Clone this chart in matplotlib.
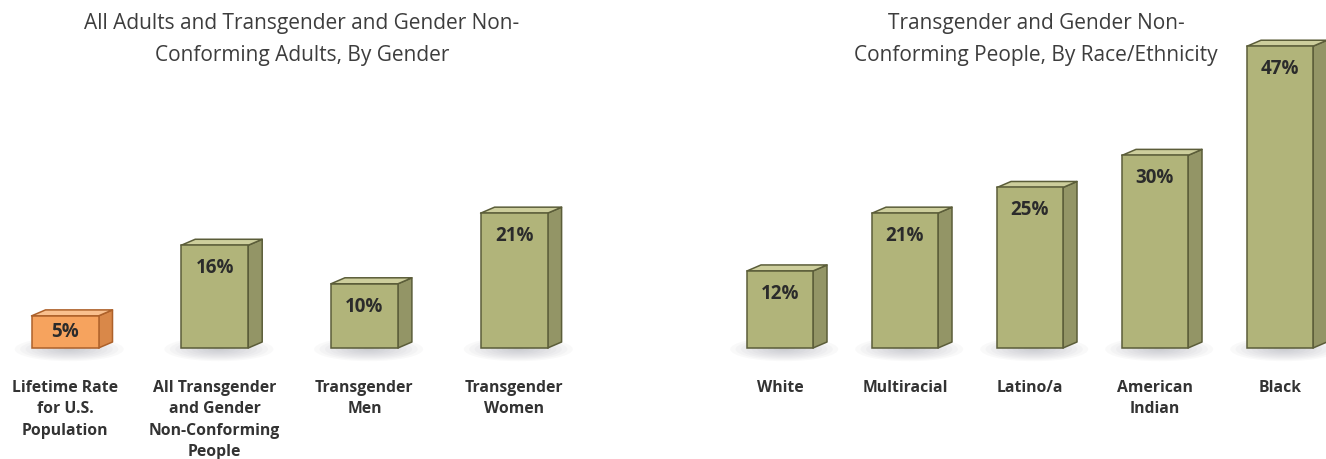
import matplotlib
matplotlib.use("Agg")
from matplotlib import pyplot as plt
from matplotlib.patches import Polygon, Rectangle, Ellipse

plt.rcParams['font.family'] = ['Open Sans', 'DejaVu Sans']

# left panel: by gender
gender_labels = ["Lifetime Rate\nfor U.S.\nPopulation",
                 "All Transgender\nand Gender\nNon-Conforming\nPeople",
                 "Transgender\nMen",
                 "Transgender\nWomen"]
gender_values = [5, 16, 10, 21]
gender_title = "All Adults and Transgender and Gender Non-\nConforming Adults, By Gender"

# right panel: by race/ethnicity
race_labels = ["White", "Multiracial", "Latino/a", "American\nIndian", "Black"]
race_values = [12, 21, 25, 30, 47]
race_title = "Transgender and Gender Non-\nConforming People, By Race/Ethnicity"

W, H = 1326, 459
fig = plt.figure(figsize=(W / 100, H / 100), dpi=100)

GREEN = dict(front="#b1b47a", side="#939566", top="#cdce9c", edge="#5b5d39")
ORANGE = dict(front="#f6a35e", side="#d98849", top="#f9c08e", edge="#ad612a")
YMAX = 54.2


def box(ax, x, h, width, dx, dy, c):
    x0, x1 = x - width / 2, x + width / 2
    # soft floor shadow
    for k in range(10):
        s = 1 - k / 10
        ax.add_patch(Ellipse((x + dx * 0.3, -dy * 0.2), (width + 3.0 * dx) * s,
                             4.0 * dy * s, color="#8e909c", alpha=0.05,
                             lw=0, clip_on=False, zorder=1))
    lw = 1.1
    ax.add_patch(Polygon([(x1, 0), (x1 + dx, dy), (x1 + dx, h + dy), (x1, h)],
                         closed=True, fc=c["side"], ec=c["edge"], lw=lw,
                         joinstyle="round", zorder=2, clip_on=False))
    ax.add_patch(Polygon([(x0, h), (x1, h), (x1 + dx, h + dy), (x0 + dx, h + dy)],
                         closed=True, fc=c["top"], ec=c["edge"], lw=lw,
                         joinstyle="round", zorder=2, clip_on=False))
    ax.add_patch(Rectangle((x0, 0), width, h, fc=c["front"], ec=c["edge"],
                           lw=lw, zorder=3, clip_on=False))


def panel(left_px, right_px, first_px, step_px, width_px, labels, values,
          colors, title, title_x):
    ax = fig.add_axes([left_px / W, 111 / H, (right_px - left_px) / W, 348 / H])
    lo = -(first_px - left_px) / step_px
    hi = (right_px - first_px) / step_px
    ax.set_xlim(lo, hi)
    ax.set_ylim(0, YMAX)
    px_y = 348 / YMAX
    dx, dy = 14 / step_px, 6 / px_y
    width = width_px / step_px
    for i, (v, c) in enumerate(zip(values, colors)):
        box(ax, i, v, width, dx, dy, c)
        ly = max(v - 23 / px_y, v / 2)
        ax.text(i, ly, f"{v}%", ha="center", va="center", fontsize=13.5,
                fontweight="bold", color="#2b2b2b", zorder=4)
    ax.set_xticks(range(len(labels)))
    ax.set_xticklabels(labels, fontsize=11.3, fontweight="bold",
                       color="#333333", linespacing=1.45)
    ax.tick_params(axis="x", length=0, pad=23)
    ax.set_yticks([])
    for s in ax.spines.values():
        s.set_visible(False)
    fig.text(title_x / W, 1 - 39.5 / H, title, ha="center", va="center",
             fontsize=15, color="#3d3d3d", linespacing=1.65)
    return ax


panel(0, 600, 65, 149.7, 67, gender_labels, gender_values,
      [ORANGE, GREEN, GREEN, GREEN], gender_title, 302)
panel(700, 1326, 780, 125, 66, race_labels, race_values,
      [GREEN] * 5, race_title, 1036)

fig.savefig("out.png", dpi=100)
